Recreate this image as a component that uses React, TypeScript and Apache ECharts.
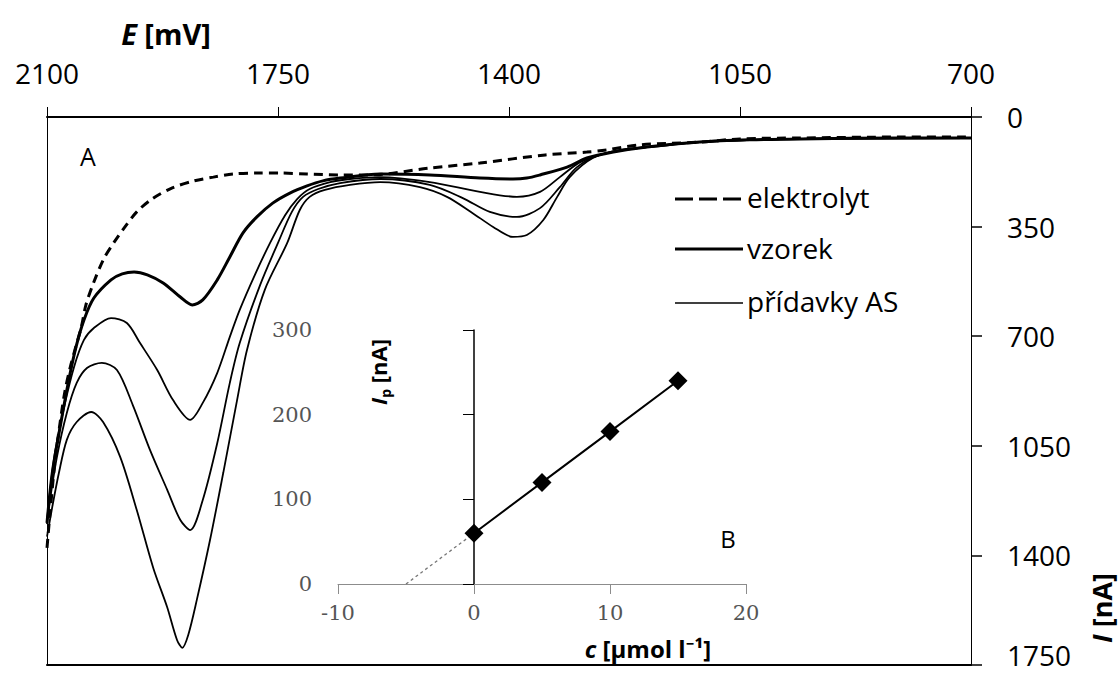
import React, { useEffect, useRef } from "react";
import * as echarts from "echarts";

// Voltammograms: [E (mV), I (nA)]
const elektrolyt: number[][] = [
  [2100, 1376], [2095, 1255], [2088, 1102], [2080, 974], [2073, 878], [2065, 801], [2056, 731],
  [2048, 671], [2041, 600], [2029, 527], [2014, 453], [1998, 399], [1983, 354], [1964, 303],
  [1941, 262], [1911, 227], [1877, 204], [1848, 192], [1818, 182], [1782, 179], [1747, 179],
  [1706, 182], [1656, 185], [1611, 185], [1520, 163], [1444, 147], [1345, 121], [1282, 112],
  [1252, 105], [1202, 89], [1111, 80], [1050, 70], [959, 67], [808, 64], [700, 64],
];

const vzorek: number[][] = [
  [2100, 1296], [2092, 1137], [2079, 977], [2067, 840], [2056, 734], [2044, 648], [2029, 578],
  [2003, 520], [1986, 501], [1968, 495], [1948, 504], [1924, 530], [1898, 575], [1880, 600],
  [1864, 584], [1842, 520], [1823, 447], [1803, 370], [1782, 319], [1758, 275], [1732, 243],
  [1706, 220], [1682, 204], [1656, 195], [1595, 182], [1520, 185], [1444, 195], [1394, 198],
  [1373, 195], [1353, 185], [1312, 160], [1282, 131], [1242, 112], [1191, 96], [1111, 80],
  [1035, 73], [959, 70], [808, 67], [700, 67],
];

const pridavek1: number[][] = [
  [2100, 1290], [2089, 1086], [2074, 926], [2059, 798], [2044, 712], [2029, 674], [2003, 642],
  [1979, 658], [1959, 722], [1933, 808], [1909, 904], [1883, 967], [1864, 913], [1842, 817],
  [1823, 702], [1808, 616], [1785, 504], [1762, 402], [1739, 313], [1721, 262], [1702, 230],
  [1671, 208], [1641, 198], [1595, 192], [1520, 208], [1444, 239], [1388, 255], [1353, 239],
  [1323, 192], [1292, 144], [1252, 115], [1191, 96], [1111, 80], [959, 70], [700, 67],
];

const pridavek2: number[][] = [
  [2100, 1300], [2097, 1245], [2085, 1086], [2070, 945], [2055, 849], [2039, 801], [2017, 785],
  [1994, 808], [1970, 920], [1944, 1063], [1918, 1190], [1898, 1287], [1883, 1319], [1864, 1223],
  [1842, 1041], [1823, 849], [1808, 722], [1777, 536], [1750, 402], [1729, 303], [1712, 255],
  [1689, 230], [1656, 211], [1595, 198], [1520, 217], [1470, 259], [1429, 303], [1388, 319],
  [1353, 291], [1323, 224], [1297, 160], [1262, 121], [1191, 96], [1111, 80], [959, 70], [700, 67],
];

const pridavek3: number[][] = [
  [2100, 1340], [2092, 1245], [2082, 1137], [2070, 1031], [2055, 974], [2033, 942], [2015, 974],
  [1989, 1086], [1964, 1255], [1939, 1440], [1918, 1565], [1903, 1670], [1895, 1695], [1886, 1654],
  [1873, 1542], [1853, 1351], [1833, 1137], [1812, 904], [1797, 744], [1770, 552], [1736, 402],
  [1717, 297], [1702, 255], [1679, 233], [1641, 217], [1595, 208], [1535, 224], [1494, 255],
  [1455, 307], [1424, 351], [1394, 383], [1373, 377], [1348, 329], [1327, 255], [1308, 192],
  [1273, 131], [1232, 105], [1171, 93], [1111, 80], [959, 70], [700, 67],
];

// Standard additions: concentration (µmol/l) vs. peak current (nA)
const additionConc = [0, 5, 10, 15];
const peakCurrent = [60, 120, 180, 240];
const extrapolation: number[][] = [[-5, 0], [0, 60]];

const SANS = "'Open Sans', 'Noto Sans', sans-serif";
const SERIF = "'DejaVu Serif', serif";
const plain = (v: number) => String(v);
// the lowest current label sits on the page edge, so lift it slightly
const currentLabel = (v: number) => (v === 1750 ? `{edge|${v}}` : String(v));

export default function App() {
  const ref = useRef<HTMLDivElement>(null);

  useEffect(() => {
    document.documentElement.style.overflow = "hidden";
    document.body.style.margin = "0";
    document.body.style.overflow = "hidden";
    if (!ref.current) return;
    const chart = echarts.init(ref.current, undefined, { renderer: "svg" });

    const curve = (name: string, data: number[][], width: number, type: any) => ({
      name,
      type: "line",
      xAxisIndex: 0,
      yAxisIndex: 0,
      data,
      symbol: "none",
      showSymbol: false,
      smooth: 0.3,
      lineStyle: { color: "#000", width, type },
      z: 3,
    });

    const option: any = {
      animation: false,
      backgroundColor: "#fff",
      grid: [
        { left: 47, top: 117, width: 924, height: 548, outerBoundsMode: "none", containLabel: false },
        { left: 338, top: 330, width: 408, height: 254, outerBoundsMode: "none", containLabel: false },
      ],
      xAxis: [
        {
          gridIndex: 0, type: "value", position: "top", min: 700, max: 2100, interval: 350, inverse: true,
          axisLine: { show: true, onZero: false, lineStyle: { color: "#000", width: 2 } },
          axisTick: { show: true, length: 10, lineStyle: { color: "#000", width: 1 } },
          axisLabel: { fontFamily: SANS, fontSize: 28, color: "#000", margin: 30, formatter: plain },
          splitLine: { show: false },
        },
        {
          gridIndex: 0, type: "value", position: "bottom", min: 700, max: 2100, inverse: true,
          axisLine: { show: true, onZero: false, lineStyle: { color: "#000", width: 2 } },
          axisTick: { show: false }, axisLabel: { show: false }, splitLine: { show: false },
        },
        {
          gridIndex: 1, type: "value", min: -10, max: 20, interval: 10,
          axisLine: { show: true, lineStyle: { color: "#8c8c8c", width: 1 } },
          axisTick: { show: true, length: 10, lineStyle: { color: "#8c8c8c", width: 1 } },
          axisLabel: { fontFamily: SERIF, fontSize: 21, color: "#555", margin: 18, formatter: plain },
          splitLine: { show: false },
        },
      ],
      yAxis: [
        {
          gridIndex: 0, type: "value", position: "right", min: 0, max: 1750, interval: 350, inverse: true,
          axisLine: { show: true, onZero: false, lineStyle: { color: "#000", width: 1 } },
          axisTick: { show: true, length: 11, lineStyle: { color: "#000", width: 1.5 } },
          axisLabel: {
            fontFamily: SANS, fontSize: 28, lineHeight: 20, color: "#000", margin: 36,
            formatter: currentLabel,
            rich: { edge: { fontFamily: SANS, fontSize: 28, lineHeight: 20, color: "#000", padding: [0, 0, 20, 0] } },
          },
          splitLine: { show: false },
        },
        {
          gridIndex: 0, type: "value", position: "left", min: 0, max: 1750, inverse: true,
          axisLine: { show: true, onZero: false, lineStyle: { color: "#000", width: 1 } },
          axisTick: { show: false }, axisLabel: { show: false }, splitLine: { show: false },
        },
        {
          gridIndex: 1, type: "value", min: 0, max: 300, interval: 100,
          axisLine: { show: true, onZero: true, lineStyle: { color: "#000", width: 1.5 } },
          axisTick: { show: true, length: 11, lineStyle: { color: "#000", width: 1 } },
          axisLabel: { fontFamily: SERIF, fontSize: 21, color: "#555", margin: 26, formatter: plain },
          splitLine: { show: false },
        },
      ],
      series: [
        curve("elektrolyt", elektrolyt, 3, [9, 6]),
        curve("vzorek", vzorek, 3, "solid"),
        curve("přídavky AS", pridavek1, 1.8, "solid"),
        curve("přídavky AS", pridavek2, 1.8, "solid"),
        curve("přídavky AS", pridavek3, 1.8, "solid"),
        {
          name: "extrapolace",
          type: "line",
          xAxisIndex: 2,
          yAxisIndex: 2,
          data: extrapolation,
          symbol: "none",
          lineStyle: { color: "#777", width: 1.3, type: [3, 3] },
          z: 4,
        },
        {
          name: "kalibrace",
          type: "line",
          xAxisIndex: 2,
          yAxisIndex: 2,
          data: additionConc.map((c, i) => [c, peakCurrent[i]]),
          symbol: "diamond",
          symbolSize: 19,
          itemStyle: { color: "#000" },
          lineStyle: { color: "#000", width: 2 },
          z: 5,
        },
      ],
      graphic: [
        {
          type: "text", x: 166, y: 33,
          style: {
            text: "{i|E}{b| [mV]}",
            align: "center", verticalAlign: "middle", fill: "#000",
            rich: {
              i: { fontFamily: SANS, fontSize: 29, fontWeight: "bold", fontStyle: "italic" },
              b: { fontFamily: SANS, fontSize: 29, fontWeight: "bold" },
            },
          },
        },
        {
          type: "text", x: 1101, y: 608, rotation: Math.PI / 2,
          style: {
            text: "{i|I}{b| [nA]}",
            align: "center", verticalAlign: "middle", fill: "#000",
            rich: {
              i: { fontFamily: SANS, fontSize: 27, fontWeight: "bold", fontStyle: "italic", lineHeight: 24 },
              b: { fontFamily: SANS, fontSize: 27, fontWeight: "bold", lineHeight: 24 },
            },
          },
        },
        {
          type: "text", x: 88, y: 156,
          style: { text: "A", fontFamily: SANS, fontSize: 25, fill: "#000", align: "center", verticalAlign: "middle" },
        },
        {
          type: "text", x: 728, y: 538,
          style: { text: "B", fontFamily: SANS, fontSize: 24, fill: "#000", align: "center", verticalAlign: "middle" },
        },
        {
          type: "text", x: 378, y: 372, rotation: Math.PI / 2,
          style: {
            text: "{i|I}{s|p}{b| [nA]}",
            align: "center", verticalAlign: "middle", fill: "#000",
            rich: {
              i: { fontFamily: SANS, fontSize: 22, fontWeight: "bold", fontStyle: "italic", lineHeight: 28 },
              s: { fontFamily: SANS, fontSize: 14, fontWeight: "bold", verticalAlign: "bottom", lineHeight: 28 },
              b: { fontFamily: SANS, fontSize: 22, fontWeight: "bold", lineHeight: 28 },
            },
          },
        },
        {
          type: "text", x: 648, y: 648,
          style: {
            text: "{i|c}{b| [µmol l⁻¹]}",
            align: "center", verticalAlign: "middle", fill: "#000",
            rich: {
              i: { fontFamily: SANS, fontSize: 24, fontWeight: "bold", fontStyle: "italic" },
              b: { fontFamily: SANS, fontSize: 24, fontWeight: "bold" },
            },
          },
        },
        // legend
        {
          type: "line", shape: { x1: 675, y1: 199, x2: 743, y2: 199 },
          style: { stroke: "#000", lineWidth: 3, lineDash: [18, 6] },
        },
        {
          type: "line", shape: { x1: 675, y1: 249, x2: 743, y2: 249 },
          style: { stroke: "#000", lineWidth: 3 },
        },
        {
          type: "line", shape: { x1: 675, y1: 303, x2: 743, y2: 303 },
          style: { stroke: "#000", lineWidth: 1.5 },
        },
        {
          type: "text", x: 747, y: 197,
          style: { text: "elektrolyt", fontFamily: SANS, fontSize: 28, fill: "#000", align: "left", verticalAlign: "middle" },
        },
        {
          type: "text", x: 747, y: 248,
          style: { text: "vzorek", fontFamily: SANS, fontSize: 28, fill: "#000", align: "left", verticalAlign: "middle" },
        },
        {
          type: "text", x: 747, y: 301,
          style: { text: "přídavky AS", fontFamily: SANS, fontSize: 28, fill: "#000", align: "left", verticalAlign: "middle" },
        },
      ],
    };

    chart.setOption(option);
    return () => chart.dispose();
  }, []);

  return <div ref={ref} style={{ width: 1118, height: 677, overflow: "hidden" }} />;
}
